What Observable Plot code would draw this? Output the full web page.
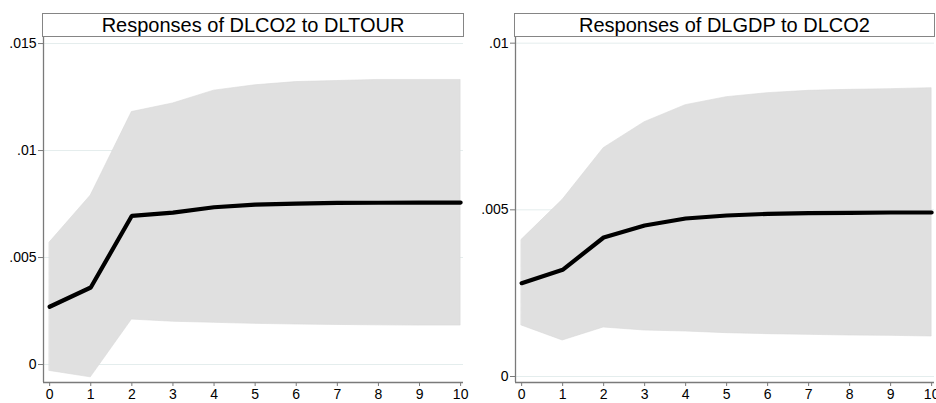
<!DOCTYPE html>
<html>
<head>
<meta charset="utf-8">
<script src="https://cdn.jsdelivr.net/npm/d3@7"></script>
<script src="https://cdn.jsdelivr.net/npm/@observablehq/plot@0.6"></script>
<style>
  html, body { margin: 0; padding: 0; background: #fff; }
  #wrap { position: relative; width: 936px; height: 403px; overflow: hidden; font-family: "Liberation Sans", Arial, sans-serif; }
  .panel { position: absolute; top: 0; width: 468px; height: 403px; }
  .panel svg { position: absolute; left: 0; top: 0; }
  .title { position: absolute; top: 13px; height: 22px; border: 1px solid #858585; background: #fff;
           box-sizing: content-box; text-align: center; font-size: 20px; line-height: 22px; color: #000; }
</style>
</head>
<body>
<div id="wrap"></div>
<script>
// Horizon (periods)
const steps = [0, 1, 2, 3, 4, 5, 6, 7, 8, 9, 10];

// Responses of DLCO2 to DLTOUR
const co2TourTitle = "Responses of DLCO2 to DLTOUR";
const co2Tour   = [0.0027, 0.0036, 0.00695, 0.0071, 0.00735, 0.00747, 0.00752, 0.00755, 0.00756, 0.00757, 0.00757];
const co2TourHi = [0.0057, 0.0079, 0.0118, 0.0122, 0.0128, 0.01305, 0.0132, 0.01325, 0.0133, 0.0133, 0.0133];
const co2TourLo = [-0.0003, -0.0006, 0.0021, 0.0020, 0.00195, 0.0019, 0.00187, 0.00185, 0.00183, 0.00182, 0.00182];
const co2TourTicks = [0, 0.005, 0.01, 0.015];

// Responses of DLGDP to DLCO2
const gdpCo2Title = "Responses of DLGDP to DLCO2";
const gdpCo2   = [0.0028, 0.0032, 0.00417, 0.00453, 0.00474, 0.00483, 0.00488, 0.0049, 0.00491, 0.00492, 0.00492];
const gdpCo2Hi = [0.0041, 0.0053, 0.00685, 0.00763, 0.00814, 0.00838, 0.0085, 0.00857, 0.0086, 0.00862, 0.00865];
const gdpCo2Lo = [0.00153, 0.00108, 0.00147, 0.00138, 0.00135, 0.0013, 0.00127, 0.00125, 0.00123, 0.00122, 0.0012];
const gdpCo2Ticks = [0, 0.005, 0.01];

const xTicks = steps;

function fmt(d) {
  if (d === 0) return "0";
  return String(+d.toFixed(4)).replace(/^0\./, ".");
}

function panel({left, marginLeft, marginRight, yDomain, yTicks, title, mid, lo, hi}) {
  const rows = steps.map((s, i) => ({step: s, mid: mid[i], lo: lo[i], hi: hi[i]}));
  const xDomain = [-0.15, 10.07];
  const chart = Plot.plot({
    width: 468,
    height: 403,
    marginLeft,
    marginRight,
    marginTop: 36,
    marginBottom: 21,
    style: {fontFamily: "'Liberation Sans', Arial, sans-serif", fontSize: "14px", color: "#000", background: "transparent", overflow: "visible"},
    x: {domain: xDomain, label: null},
    y: {domain: yDomain, label: null},
    marks: [
      Plot.gridY(yTicks, {stroke: "#e4eded", strokeOpacity: 1, strokeWidth: 1}),
      Plot.areaY(rows, {x: "step", y1: "lo", y2: "hi", fill: "#e0e0e0", stroke: "#d8d8d8", strokeWidth: 0.6}),
      Plot.lineY(rows, {x: "step", y: "mid", stroke: "#000", strokeWidth: 4.2, strokeLinejoin: "miter"}),
      Plot.ruleX([xDomain[0]], {stroke: "#7a7a7a", strokeWidth: 1.3}),
      Plot.ruleY([yDomain[0]], {stroke: "#7a7a7a", strokeWidth: 1.3}),
      Plot.axisY(yTicks, {tickSize: 5, tickPadding: 2, stroke: "#7a7a7a", fill: "#000", tickFormat: fmt, fontSize: 14, label: null}),
      Plot.axisX(xTicks, {tickSize: 4, tickPadding: 3, stroke: "#7a7a7a", fill: "#000", tickFormat: d => String(d), fontSize: 14, label: null})
    ]
  });
  const div = document.createElement("div");
  div.className = "panel";
  div.style.left = left + "px";
  div.appendChild(chart);
  const t = document.createElement("div");
  t.className = "title";
  t.textContent = title;
  t.style.left = (marginLeft - 1) + "px";
  t.style.width = (468 - marginLeft - marginRight) + "px";
  div.appendChild(t);
  document.getElementById("wrap").appendChild(div);
}

panel({left: 0, marginLeft: 43, marginRight: 5, yDomain: [-0.00084, 0.01533], yTicks: co2TourTicks,
       title: co2TourTitle, mid: co2Tour, lo: co2TourLo, hi: co2TourHi});
panel({left: 468, marginLeft: 47, marginRight: 2, yDomain: [-0.00018, 0.0102], yTicks: gdpCo2Ticks,
       title: gdpCo2Title, mid: gdpCo2, lo: gdpCo2Lo, hi: gdpCo2Hi});
</script>
</body>
</html>
